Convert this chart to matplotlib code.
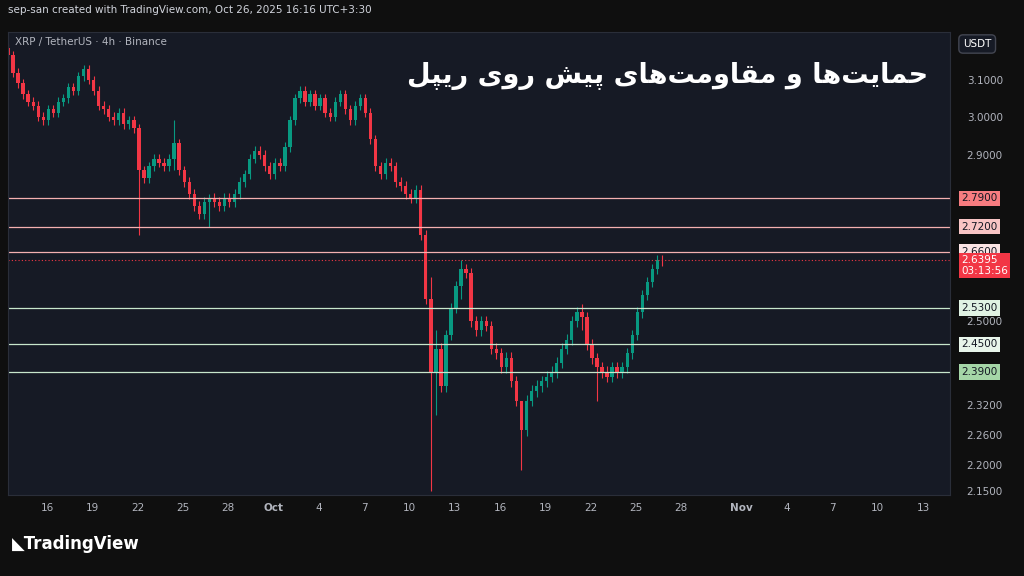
import datetime as dt
import matplotlib.pyplot as plt
import matplotlib.dates as mdates
import matplotlib.transforms as mtrans
from matplotlib.ticker import FixedLocator, NullLocator

# 8h candles, closes (Sep 13 -> Oct 26)
closes = [3.17, 3.12, 3.09, 3.06, 3.04, 3.03, 3.00, 2.99, 3.02, 3.01, 3.04, 3.05, 3.08, 3.07,
          3.11, 3.13, 3.10, 3.07, 3.03, 3.02, 3.00, 2.99, 3.01, 2.98, 2.99, 2.97, 2.86, 2.84,
          2.87, 2.89, 2.88, 2.87, 2.89, 2.93, 2.86, 2.83, 2.80, 2.77, 2.75, 2.78, 2.79, 2.78,
          2.77, 2.79, 2.78, 2.80, 2.83, 2.85, 2.89, 2.91, 2.90, 2.87, 2.85, 2.88, 2.87, 2.92,
          2.99, 3.05, 3.07, 3.04, 3.06, 3.03, 3.05, 3.01, 3.00, 3.04, 3.06, 3.02, 2.99, 3.03,
          3.05, 3.01, 2.94, 2.87, 2.85, 2.88, 2.87, 2.83, 2.82, 2.80, 2.79, 2.81, 2.70, 2.55,
          2.39, 2.44, 2.36, 2.47, 2.53, 2.58, 2.62, 2.61, 2.50, 2.48, 2.50, 2.49, 2.44, 2.43,
          2.40, 2.42, 2.37, 2.33, 2.27, 2.33, 2.35, 2.36, 2.37, 2.38, 2.39, 2.41, 2.44, 2.46,
          2.50, 2.52, 2.51, 2.45, 2.42, 2.40, 2.39, 2.38, 2.40, 2.39, 2.40, 2.43, 2.47, 2.52,
          2.56, 2.59, 2.62, 2.64, 2.6395]
first_open = 3.19
# notable wicks: candle index -> (high, low)
wicks = {26: (2.98, 2.70), 33: (2.99, 2.86), 40: (2.80, 2.72), 84: (2.60, 2.15),
         85: (2.48, 2.30), 90: (2.64, 2.55), 102: (2.33, 2.19), 114: (2.54, 2.48),
         117: (2.43, 2.33)}
wick_pad = 0.012

res_levels = [2.79, 2.72, 2.66]
sup_levels = [2.53, 2.45, 2.39]
last_price = 2.6395
countdown = "03:13:56"
ytick_vals = [3.1, 3.0, 2.9, 2.5, 2.32, 2.26, 2.20, 2.15]
header = "sep-san created with TradingView.com, Oct 26, 2025 16:16 UTC+3:30"
symbol = "XRP / TetherUS · 4h · Binance"

# Persian title, pre-shaped in presentation forms (logical order)
title_words = [
    [0xFEA3, 0xFEE4, 0xFE8E, 0xFBFE, 0xFE96, 0xFEEB, 0xFE8E],
    [0xFEED],
    [0xFEE3, 0xFED8, 0xFE8E, 0xFEED, 0xFEE3, 0xFE96, 0xFEEB, 0xFE8E, 0xFBFC],
    [0xFB58, 0xFBFF, 0xFEB6],
    [0xFEAD, 0xFEED, 0xFBFC],
    [0xFEAD, 0xFBFE, 0xFB59, 0xFEDE],
]
title_logical = " ".join("".join(chr(c) for c in w) for w in title_words)
title_visual = title_logical[::-1]

UP, DOWN = "#089981", "#f23645"
BG = "#161a25"

fig = plt.figure(figsize=(10.24, 5.76), dpi=100, facecolor="#0f0f0f")
ax = fig.add_axes([8 / 1024, 81 / 576, 942 / 1024, 463 / 576], facecolor=BG)

start = dt.datetime(2025, 9, 13, 10)
step = dt.timedelta(hours=8)
width = 0.22
prev = first_open
for i, c in enumerate(closes):
    t = mdates.date2num(start + i * step)
    o = prev
    hi, lo = wicks.get(i, (max(o, c) + wick_pad, min(o, c) - wick_pad))
    col = UP if c >= o else DOWN
    ax.vlines(t, lo, hi, color=col, lw=0.8)
    ax.bar(t, abs(c - o) or 0.002, bottom=min(o, c), width=width, color=col, lw=0)
    prev = c

ax.set_yscale("log")
ax.set_ylim(2.142, 3.235)
ax.set_xlim(mdates.date2num(dt.datetime(2025, 9, 13, 10)), mdates.date2num(dt.datetime(2025, 11, 14, 19)))

for lv in res_levels:
    ax.axhline(lv, color="#f4b0b0", lw=0.9)
for lv in sup_levels:
    ax.axhline(lv, color="#c8e6cc", lw=0.9)
ax.axhline(last_price, color=DOWN, lw=0.8, ls=(0, (1, 2)))

ax.yaxis.tick_right()
ax.yaxis.set_major_locator(FixedLocator(ytick_vals))
ax.yaxis.set_minor_locator(NullLocator())
ax.set_yticklabels([f"{v:.4f}" for v in ytick_vals])
ax.tick_params(axis="y", colors="#b2b5be", labelsize=7.5, length=0, pad=12)

xt = [dt.datetime(2025, 9, d) for d in (16, 19, 22, 25, 28)] + \
     [dt.datetime(2025, 10, d) for d in (1, 4, 7, 10, 13, 16, 19, 22, 25, 28)] + \
     [dt.datetime(2025, 11, d) for d in (1, 4, 7, 10, 13)]
ax.set_xticks(mdates.date2num(xt))
ax.set_xticklabels([("Oct" if d.month == 10 else "Nov") if d.day == 1 else str(d.day) for d in xt])
for lbl, d in zip(ax.get_xticklabels(), xt):
    if d.day == 1:
        lbl.set_fontweight("bold")
ax.tick_params(axis="x", colors="#b2b5be", labelsize=7.5, length=0, pad=6)
ax.grid(False)
for s in ax.spines.values():
    s.set_color("#2a2e39")

tr = mtrans.blended_transform_factory(ax.transAxes, ax.transData)
box_styles = {2.79: ("#f77c80", "#131722"), 2.72: ("#f8c4c4", "#131722"),
              2.66: ("#fbe3e3", "#131722"), 2.53: ("#e0f2e3", "#131722"),
              2.45: ("#e8f5ea", "#131722"), 2.39: ("#a5d6a7", "#131722")}
for lv in res_levels + sup_levels:
    fc, tc = box_styles[lv]
    ax.text(1.012, lv, f"{lv:.4f}", transform=tr, fontsize=7.5, color=tc, va="center", ha="left",
            bbox=dict(boxstyle="square,pad=0.25", fc=fc, ec="none"))
ax.text(1.012, 2.652, f"{last_price:.4f}\n{countdown}", transform=tr, fontsize=7.5, color="white",
        va="top", ha="left", linespacing=1.05,
        bbox=dict(boxstyle="square,pad=0.2", fc=DOWN, ec="none"))

fig.text(8 / 1024, 1 - 10 / 576, header, color="#d1d4dc", fontsize=7.5, va="center")
fig.text(15 / 1024, 1 - 42 / 576, symbol, color="#b2b5be", fontsize=7.5, va="center")
fig.text(963 / 1024, 1 - 44 / 576, "USDT", color="white", fontsize=7.5, va="center",
         bbox=dict(boxstyle="round,pad=0.4", fc=BG, ec="#434651"))
fig.text(928 / 1024, 1 - 76 / 576, title_visual, color="white", fontsize=19.5, fontweight="bold",
         ha="right", va="center", family=["DejaVu Sans"])
fig.text(12 / 1024, 1 - 544 / 576, "◣TradingView", color="white", fontsize=12, fontweight="bold",
         va="center")

fig.savefig("out.png", dpi=100, facecolor=fig.get_facecolor())
